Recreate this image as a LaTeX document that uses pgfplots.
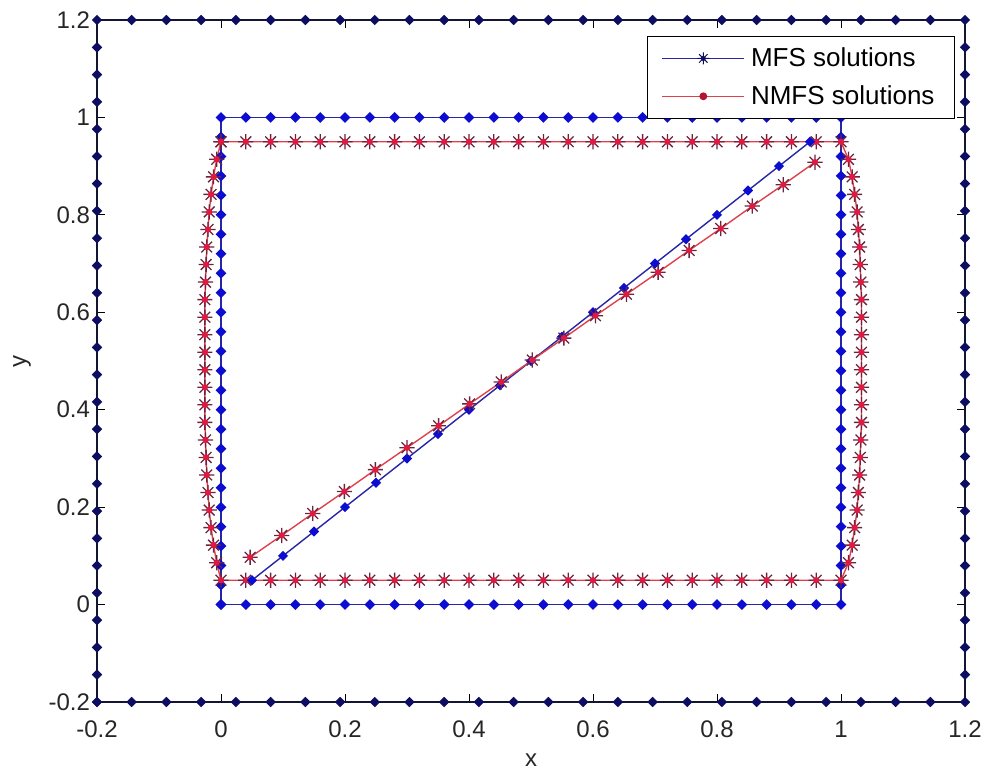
\documentclass[border=0pt]{standalone}
\usepackage{pgfplots}
\pgfplotsset{compat=1.18}
\usepackage{fontspec}
\setmainfont{Liberation Sans}
\definecolor{outerline}{rgb}{0.08,0.08,0.2}
\definecolor{outermark}{rgb}{0.05,0.05,0.38}
\definecolor{bluel}{rgb}{0.15,0.15,0.65}
\definecolor{bluem}{rgb}{0.05,0.05,0.82}
\definecolor{redl}{rgb}{0.88,0.25,0.3}
\definecolor{redspoke}{rgb}{0.42,0.14,0.24}
\definecolor{redfill}{rgb}{0.88,0.1,0.25}
\pgfdeclareplotmark{mstar}{%
  \pgfpathmoveto{\pgfqpoint{-\pgfplotmarksize}{0pt}}\pgfpathlineto{\pgfqpoint{\pgfplotmarksize}{0pt}}%
  \pgfpathmoveto{\pgfqpoint{0pt}{-\pgfplotmarksize}}\pgfpathlineto{\pgfqpoint{0pt}{\pgfplotmarksize}}%
  \pgfpathmoveto{\pgfqpoint{-0.707\pgfplotmarksize}{-0.707\pgfplotmarksize}}\pgfpathlineto{\pgfqpoint{0.707\pgfplotmarksize}{0.707\pgfplotmarksize}}%
  \pgfpathmoveto{\pgfqpoint{-0.707\pgfplotmarksize}{0.707\pgfplotmarksize}}\pgfpathlineto{\pgfqpoint{0.707\pgfplotmarksize}{-0.707\pgfplotmarksize}}%
  \pgfusepathqstroke
  \pgfpathcircle{\pgfpointorigin}{0.42\pgfplotmarksize}\pgfusepathqfill
}
\begin{document}
\begin{tikzpicture}
\begin{axis}[
  scale only axis, width=434pt, height=341pt,
  xmin=-0.2, xmax=1.2, ymin=-0.2, ymax=1.2,
  xtick={-0.2,0,0.2,0.4,0.6,0.8,1,1.2},
  xticklabels={-0.2,0,0.2,0.4,0.6,0.8,1,1.2},
  ytick={-0.2,0,0.2,0.4,0.6,0.8,1,1.2},
  yticklabels={-0.2,0,0.2,0.4,0.6,0.8,1,1.2},
  tick align=inside, major tick length=4pt,
  tick style={black, line width=0.5pt},
  axis line style={black, line width=0.6pt},
  ticklabel style={font=\fontsize{12}{14}\selectfont, text=black!85},
  xticklabel style={yshift=-6pt},
  yticklabel style={xshift=0pt},
  every axis x label/.style={at={(axis description cs:0.5,-0.085)}, anchor=center, font=\fontsize{12}{14}\selectfont, text=black!85},
  every axis y label/.style={at={(axis description cs:-0.0864,0.5)}, anchor=center, rotate=90, font=\fontsize{12}{14}\selectfont, text=black!85},
  xlabel={x}, ylabel={y},
  clip=false,
  legend style={at={(0.9885,0.9765)}, anchor=north east, draw=black, line width=0.5pt, fill=white,
    font=\fontsize{13}{15}\selectfont, inner xsep=7pt, inner ysep=3.5pt, row sep=4pt,
    nodes={inner xsep=3pt}},
  legend cell align=left,
  legend image code/.code={\draw[mark repeat=2,mark phase=2,#1] plot coordinates {(0pt,0pt) (20.5pt,0pt) (41pt,0pt)};},
]
\coordinate (sw) at (rel axis cs:0,0);
\coordinate (ne) at (rel axis cs:1,1);
% outer square
\addplot[forget plot, outerline, line width=0.8pt, mark=square*, mark size=1.45pt, mark options={rotate=45, fill=outermark, draw=outermark}] coordinates {
(-0.2,-0.2)(-0.144,-0.2)(-0.088,-0.2)(-0.032,-0.2)(0.024,-0.2)(0.08,-0.2)(0.136,-0.2)(0.192,-0.2)(0.248,-0.2)(0.304,-0.2)(0.36,-0.2)(0.416,-0.2)(0.472,-0.2)(0.528,-0.2)(0.584,-0.2)(0.64,-0.2)(0.696,-0.2)(0.752,-0.2)(0.808,-0.2)(0.864,-0.2)(0.92,-0.2)(0.976,-0.2)(1.032,-0.2)(1.088,-0.2)(1.144,-0.2)(1.2,-0.2)
(1.2,-0.144)(1.2,-0.088)(1.2,-0.032)(1.2,0.024)(1.2,0.08)(1.2,0.136)(1.2,0.192)(1.2,0.248)(1.2,0.304)(1.2,0.36)(1.2,0.416)(1.2,0.472)(1.2,0.528)(1.2,0.584)(1.2,0.64)(1.2,0.696)(1.2,0.752)(1.2,0.808)(1.2,0.864)(1.2,0.92)(1.2,0.976)(1.2,1.032)(1.2,1.088)(1.2,1.144)(1.2,1.2)
(1.144,1.2)(1.088,1.2)(1.032,1.2)(0.976,1.2)(0.92,1.2)(0.864,1.2)(0.808,1.2)(0.752,1.2)(0.696,1.2)(0.64,1.2)(0.584,1.2)(0.528,1.2)(0.472,1.2)(0.416,1.2)(0.36,1.2)(0.304,1.2)(0.248,1.2)(0.192,1.2)(0.136,1.2)(0.08,1.2)(0.024,1.2)(-0.032,1.2)(-0.088,1.2)(-0.144,1.2)(-0.2,1.2)
(-0.2,1.144)(-0.2,1.088)(-0.2,1.032)(-0.2,0.976)(-0.2,0.92)(-0.2,0.864)(-0.2,0.808)(-0.2,0.752)(-0.2,0.696)(-0.2,0.64)(-0.2,0.584)(-0.2,0.528)(-0.2,0.472)(-0.2,0.416)(-0.2,0.36)(-0.2,0.304)(-0.2,0.248)(-0.2,0.192)(-0.2,0.136)(-0.2,0.08)(-0.2,0.024)(-0.2,-0.032)(-0.2,-0.088)(-0.2,-0.144)(-0.2,-0.2)
};
% blue square
\addplot[forget plot, bluel, line width=0.9pt, mark=square*, mark size=1.45pt, mark options={rotate=45, fill=bluem, draw=bluem}] coordinates {
(0,0)(0.04,0)(0.08,0)(0.12,0)(0.16,0)(0.2,0)(0.24,0)(0.28,0)(0.32,0)(0.36,0)(0.4,0)(0.44,0)(0.48,0)(0.52,0)(0.56,0)(0.6,0)(0.64,0)(0.68,0)(0.72,0)(0.76,0)(0.8,0)(0.84,0)(0.88,0)(0.92,0)(0.96,0)(1,0)
(1,0.04)(1,0.08)(1,0.12)(1,0.16)(1,0.2)(1,0.24)(1,0.28)(1,0.32)(1,0.36)(1,0.4)(1,0.44)(1,0.48)(1,0.52)(1,0.56)(1,0.6)(1,0.64)(1,0.68)(1,0.72)(1,0.76)(1,0.8)(1,0.84)(1,0.88)(1,0.92)(1,0.96)(1,1)
(0.96,1)(0.92,1)(0.88,1)(0.84,1)(0.8,1)(0.76,1)(0.72,1)(0.68,1)(0.64,1)(0.6,1)(0.56,1)(0.52,1)(0.48,1)(0.44,1)(0.4,1)(0.36,1)(0.32,1)(0.28,1)(0.24,1)(0.2,1)(0.16,1)(0.12,1)(0.08,1)(0.04,1)(0,1)
(0,0.96)(0,0.92)(0,0.88)(0,0.84)(0,0.8)(0,0.76)(0,0.72)(0,0.68)(0,0.64)(0,0.6)(0,0.56)(0,0.52)(0,0.48)(0,0.44)(0,0.4)(0,0.36)(0,0.32)(0,0.28)(0,0.24)(0,0.2)(0,0.16)(0,0.12)(0,0.08)(0,0.04)(0,0)
};
% red closed curve
\addplot[forget plot, redl, line width=0.7pt, mark=mstar, mark size=3.8pt, mark options={draw=redspoke, fill=redfill, line width=0.65pt}] coordinates {
(0,0.95)(0.04,0.95)(0.08,0.95)(0.12,0.95)(0.16,0.95)(0.2,0.95)(0.24,0.95)(0.28,0.95)(0.32,0.95)(0.36,0.95)(0.4,0.95)(0.44,0.95)(0.48,0.95)(0.52,0.95)(0.56,0.95)(0.6,0.95)(0.64,0.95)(0.68,0.95)(0.72,0.95)(0.76,0.95)(0.8,0.95)(0.84,0.95)(0.88,0.95)(0.92,0.95)(0.96,0.95)(1,0.95)
(1.012,0.914)(1.018,0.878)(1.022,0.842)(1.026,0.806)(1.028,0.770)(1.030,0.734)(1.031,0.698)(1.032,0.662)(1.033,0.626)(1.033,0.590)(1.033,0.554)(1.033,0.518)(1.033,0.482)(1.033,0.446)(1.033,0.410)(1.033,0.374)(1.032,0.338)(1.031,0.302)(1.030,0.266)(1.028,0.230)(1.026,0.194)(1.022,0.158)(1.018,0.122)(1.012,0.086)(1.000,0.05)
(0.96,0.05)(0.92,0.05)(0.88,0.05)(0.84,0.05)(0.8,0.05)(0.76,0.05)(0.72,0.05)(0.68,0.05)(0.64,0.05)(0.6,0.05)(0.56,0.05)(0.52,0.05)(0.48,0.05)(0.44,0.05)(0.4,0.05)(0.36,0.05)(0.32,0.05)(0.28,0.05)(0.24,0.05)(0.2,0.05)(0.16,0.05)(0.12,0.05)(0.08,0.05)(0.04,0.05)(0,0.05)
(-0.007,0.086)(-0.012,0.122)(-0.016,0.158)(-0.019,0.194)(-0.021,0.230)(-0.023,0.266)(-0.024,0.302)(-0.025,0.338)(-0.026,0.374)(-0.026,0.410)(-0.026,0.446)(-0.026,0.482)(-0.026,0.518)(-0.026,0.554)(-0.026,0.590)(-0.026,0.626)(-0.025,0.662)(-0.024,0.698)(-0.023,0.734)(-0.021,0.770)(-0.019,0.806)(-0.016,0.842)(-0.012,0.878)(-0.007,0.914)(0,0.95)
};
% blue diagonal
\addplot[forget plot, bluel, line width=0.7pt, mark=square*, mark size=1.45pt, mark options={rotate=45, fill=bluem, draw=bluem}] coordinates {
(0.05,0.05)(0.1,0.1)(0.15,0.15)(0.2,0.2)(0.25,0.25)(0.3,0.3)(0.35,0.35)(0.4,0.4)(0.45,0.45)(0.5,0.5)(0.55,0.55)(0.6,0.6)(0.65,0.65)(0.7,0.7)(0.75,0.75)(0.8,0.8)(0.85,0.85)(0.9,0.9)(0.95,0.95)
};
% red diagonal
\addplot[forget plot, redl, line width=0.7pt, mark=mstar, mark size=3.8pt, mark options={draw=redspoke, fill=redfill, line width=0.65pt}] coordinates {
(0.047,0.097)(0.098,0.142)(0.148,0.187)(0.199,0.232)(0.249,0.277)(0.300,0.322)(0.351,0.367)(0.401,0.412)(0.452,0.457)(0.502,0.502)(0.553,0.547)(0.604,0.593)(0.654,0.637)(0.705,0.682)(0.755,0.727)(0.806,0.772)(0.857,0.818)(0.907,0.862)(0.958,0.908)
};
\addlegendimage{bluel, line width=0.7pt, mark=mstar, mark size=3pt, mark options={draw=outermark, fill=outermark, line width=0.5pt}}
\addlegendentry{MFS solutions}
\addlegendimage{redl, line width=0.7pt, mark=*, mark size=1.6pt, mark options={draw=redfill!80!black, fill=redfill!80!black}}
\addlegendentry{NMFS solutions}
\end{axis}
\pgfresetboundingbox
\path ([shift={(-48.5pt,-35pt)}]sw) rectangle ([shift={(9.5pt,10pt)}]ne);
\end{tikzpicture}
\end{document}
